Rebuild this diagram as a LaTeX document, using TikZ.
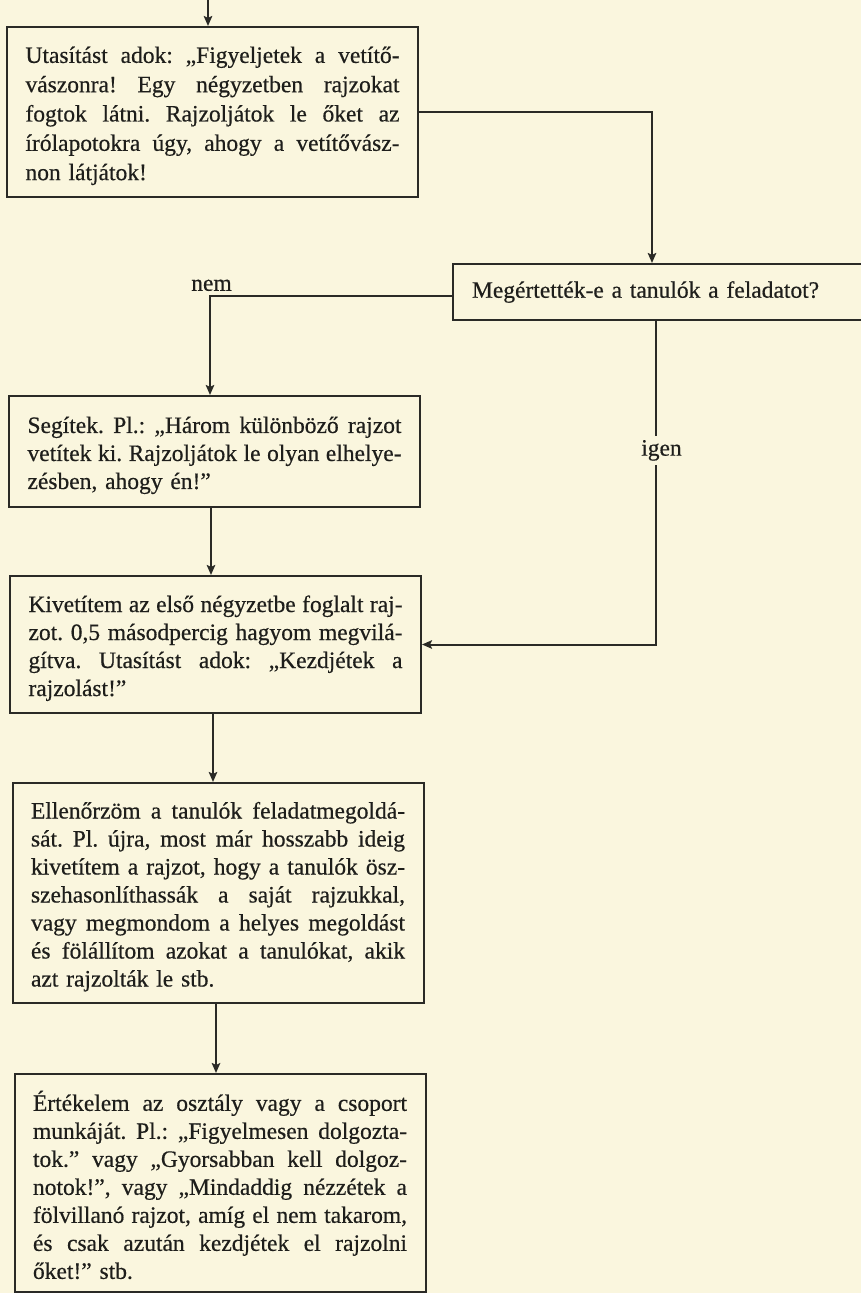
\documentclass[tikz,border=0pt]{standalone}
\usepackage{fontspec}
\setmainfont{Liberation Serif}[FakeBold=0.5]
\usetikzlibrary{arrows.meta}
\definecolor{paper}{RGB}{250,246,222}
\definecolor{ink}{RGB}{30,30,27}
\definecolor{rule}{RGB}{42,42,38}
\frenchspacing
% a justified line of fixed width, and a last (ragged) line
\newcommand\jline[1]{\noindent\hbox to 374pt{\spaceskip=0.25em plus 1.5em minus 0.12em\relax #1}\\}
\newcommand\lline[1]{\noindent#1}
\newcommand\topstrut{\rule{0pt}{24pt}}
\begin{document}
\begin{tikzpicture}[x=1pt,y=-1pt,
  every node/.style={text=ink},
  stepbox/.style={draw=rule, line width=2pt, inner xsep=18.5pt, inner ysep=0pt,
    text width=374pt, align=left, font=\fontsize{23.5}{28}\selectfont},
  askbox/.style={draw=rule, line width=2pt, inner xsep=19pt, inner ysep=0pt,
    text width=399pt, minimum height=56pt, align=left, font=\fontsize{23.5}{28}\selectfont},
  flow/.style={draw=rule, line width=2pt, -{Stealth[length=10pt,width=8.5pt,inset=2pt]}},
  tag/.style={font=\fontsize{23.5}{28}\selectfont, inner sep=0pt}
]
\useasboundingbox (0,0) rectangle (861,1293);
\fill[paper] (0,0) rectangle (861,1293);
\clip (0,0) rectangle (861,1293);

% instruction
\node[stepbox, minimum height=170pt, font=\fontsize{23.5}{29.3}\selectfont] (b1) at (212.5,112) {%
\jline{\topstrut Utasítást adok: „Figyeljetek a vetítő-}
\jline{vászonra! Egy négyzetben rajzokat}
\jline{fogtok látni. Rajzoljátok le őket az}
\jline{írólapotokra úgy, ahogy a vetítővász-}
\lline{non látjátok!}};

% question
\node[askbox] (b2) at (671.5,292) {Megértették-e a tanulók a feladatot?};

% help
\node[stepbox, minimum height=111pt] (b3) at (214.5,451.5) {%
\jline{\topstrut Segítek. Pl.: „Három különböző rajzot}
\jline{vetítek ki. Rajzoljátok le olyan elhelye-}
\lline{zésben, ahogy én!”}};

% projection
\node[stepbox, minimum height=137pt] (b4) at (215.5,644.5) {%
\jline{\topstrut Kivetítem az első négyzetbe foglalt raj-}
\jline{zot. 0,5 másodpercig hagyom megvilá-}
\jline{gítva. Utasítást adok: „Kezdjétek a}
\lline{rajzolást!”}};

% checking
\node[stepbox, minimum height=220pt] (b5) at (218,893) {%
\jline{\topstrut Ellenőrzöm a tanulók feladatmegoldá-}
\jline{sát. Pl. újra, most már hosszabb ideig}
\jline{kivetítem a rajzot, hogy a tanulók ösz-}
\jline{szehasonlíthassák a saját rajzukkal,}
\jline{vagy megmondom a helyes megoldást}
\jline{és fölállítom azokat a tanulókat, akik}
\lline{azt rajzolták le stb.}};

% evaluation
\node[stepbox, minimum height=218pt] (b6) at (220,1183) {%
\jline{\topstrut Értékelem az osztály vagy a csoport}
\jline{munkáját. Pl.: „Figyelmesen dolgozta-}
\jline{tok.” vagy „Gyorsabban kell dolgoz-}
\jline{notok!”, vagy „Mindaddig nézzétek a}
\jline{fölvillanó rajzot, amíg el nem takarom,}
\jline{és csak azután kezdjétek el rajzolni}
\lline{őket!” stb.}};

% connectors
\coordinate (entry) at (208,0);
\draw[flow] (entry) -- (entry |- b1.north);
\draw[flow] (b1.east) -| ([xshift=-19.5pt]b2.north);
\draw[flow] ([yshift=-4pt]b2.west) -| node[tag, pos=0.5, anchor=south, yshift=4pt, xshift=1.5pt] {nem} ([xshift=-4.5pt]b3.north);
\draw[flow] ([xshift=-15.5pt]b2.south) |- node[tag, pos=0.2, fill=paper, inner ysep=4pt, xshift=5.5pt] {igen} (b4.east);
\draw[flow] ([xshift=-3.5pt]b3.south) -- ([xshift=-3.5pt]b3.south |- b4.north);
\draw[flow] ([xshift=-2.5pt]b4.south) -- ([xshift=-2.5pt]b4.south |- b5.north);
\draw[flow] ([xshift=-2pt]b5.south) -- ([xshift=-2pt]b5.south |- b6.north);
\end{tikzpicture}
\end{document}
